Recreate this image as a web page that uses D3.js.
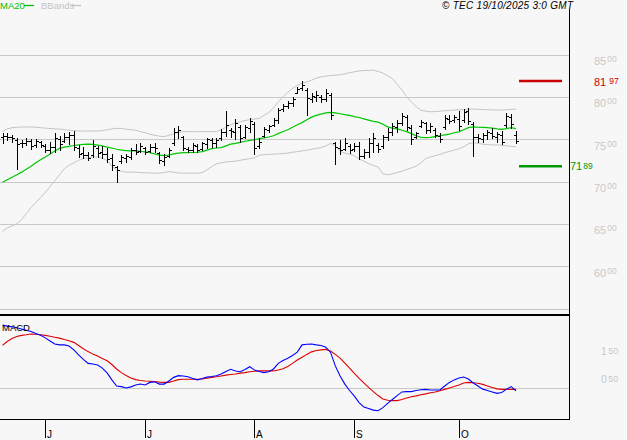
<!DOCTYPE html>
<html><head><meta charset="utf-8">
<script src="https://cdn.jsdelivr.net/npm/d3@7"></script>
<style>
html,body{margin:0;padding:0;background:#f7f7f7;}
svg{display:block;font-family:"Liberation Sans",Arial,sans-serif;}
</style>
</head><body>
<svg id="c" width="627" height="440"></svg>
<script>
// ---- data ----
const opens=[75.4,75.5,75.3,75.0,74.6,74.6,74.9,74.4,74.8,74.3,
73.8,74.2,75.1,74.9,75.4,75.6,74.1,73.5,73.2,73.2,
74.1,73.6,73.3,72.9,71.8,72.5,72.9,73.0,73.8,73.7,
74.1,73.7,74.2,73.5,72.5,73.1,74.6,76.0,75.3,73.9,
73.8,74.3,73.9,74.5,75.0,74.6,75.2,76.0,76.2,75.9,
76.5,75.4,76.4,76.9,74.3,75.5,76.2,76.8,77.3,78.6,
79.0,79.4,80.6,81.1,80.9,79.8,80.1,80.1,79.8,80.3,
74.6,74.1,73.9,74.3,73.9,74.3,73.1,73.6,74.6,74.4,
74.3,75.3,76.0,76.5,77.0,77.7,76.4,75.3,76.7,77.0,
76.2,76.2,75.5,76.5,77.5,77.3,77.5,77.4,78.4,76.9,
75.3,75.1,75.6,75.8,75.4,75.6,76.8,77.7,75.6];
const highs=[75.79,75.79,75.59,75.20,75.00,75.20,75.12,75.12,74.88,74.49,
74.73,75.79,75.51,75.79,75.91,76.06,74.41,74.21,73.55,75.00,
74.33,74.33,74.02,73.32,71.98,73.24,73.32,74.10,74.49,74.61,
74.21,74.49,74.61,73.62,73.32,74.02,76.38,76.68,75.51,74.21,
74.61,74.49,74.80,75.27,75.27,75.20,76.29,78.41,76.45,77.47,
76.76,76.76,77.62,77.15,75.20,76.56,76.76,77.62,78.80,79.20,
79.59,80.09,81.27,81.94,81.08,80.49,80.76,80.29,81.00,80.49,
74.80,75.00,75.20,74.49,74.61,74.80,73.94,75.20,75.79,74.61,
75.59,76.38,76.96,77.35,78.14,77.94,76.76,75.98,77.35,77.15,
76.96,76.38,75.79,77.94,77.94,77.94,78.41,78.65,78.80,77.15,
75.67,75.79,76.18,76.38,75.98,76.06,78.14,78.02,76.06];
const lows=[74.61,75.00,74.80,71.59,74.21,74.41,73.94,74.21,74.21,73.55,
73.44,73.62,73.82,74.80,74.49,73.82,73.04,72.85,72.65,73.04,
73.04,72.92,72.45,71.47,70.09,72.26,72.45,72.75,73.32,73.62,
73.32,73.55,73.62,72.26,72.06,73.04,74.41,75.27,73.82,73.62,
73.55,73.55,73.82,74.02,74.21,74.21,75.00,75.51,75.39,75.12,
74.80,75.27,75.98,73.32,74.02,75.39,75.91,76.68,76.96,78.41,
78.80,79.04,80.49,80.88,77.94,79.51,79.59,79.44,79.59,77.47,
72.14,73.32,73.82,73.44,73.71,72.76,72.85,73.04,73.62,73.62,
74.10,75.00,75.59,75.98,76.76,76.18,74.49,75.20,76.56,75.79,
75.91,75.39,74.80,76.29,76.96,77.08,76.18,77.15,76.85,73.15,
74.80,74.80,75.12,75.20,74.80,74.49,76.56,76.38,74.61];
const closes=[75.5,75.3,75.2,74.5,74.6,74.9,74.3,74.9,74.4,73.8,
74.2,75.2,74.5,75.4,75.6,74.2,73.4,73.2,72.9,74.3,
73.5,73.3,72.8,72.0,71.5,73.0,73.1,73.8,73.6,74.3,
73.6,74.2,74.0,72.6,73.0,73.8,76.0,76.2,74.0,73.8,
74.4,73.8,74.6,75.1,74.6,75.0,76.0,76.8,76.1,77.0,
75.2,76.5,77.2,74.0,74.8,76.3,76.6,77.4,78.5,79.0,
79.4,79.8,81.0,81.5,79.9,80.2,80.3,79.8,80.5,77.9,
74.2,73.8,74.6,73.8,74.3,73.1,73.6,74.6,75.2,73.9,
75.3,76.0,76.6,77.0,77.8,76.5,75.1,75.8,77.1,76.2,
76.7,75.6,75.1,77.6,77.2,77.7,76.6,78.3,77.2,75.4,
75.2,75.6,75.9,75.5,75.7,74.8,77.8,76.9,74.9];
const ma20=[70.0,70.3,70.6,70.9,71.2,71.55,71.9,72.3,72.65,73.0,
73.35,73.7,74.0,74.15,74.25,74.35,74.42,74.47,74.5,74.48,
74.4,74.3,74.15,74.05,73.9,73.8,73.75,73.71,73.7,73.65,
73.6,73.5,73.35,73.2,73.15,73.2,73.35,73.45,73.5,73.5,
73.52,73.55,73.62,73.8,73.97,74.05,74.1,74.3,74.5,74.6,
74.72,74.85,74.95,75.03,75.15,75.25,75.35,75.5,75.75,76.0,
76.2,76.5,76.8,77.05,77.4,77.7,77.9,78.05,78.2,78.26,
78.2,78.1,78.0,77.9,77.75,77.65,77.5,77.35,77.2,77.1,
76.85,76.55,76.4,76.3,76.15,75.98,75.75,75.5,75.3,75.27,
75.3,75.4,75.5,75.6,75.7,75.85,75.95,76.2,76.45,76.55,
76.5,76.48,76.45,76.4,76.3,76.26,76.35,76.45,76.35];
const bbUpper=[76.0,76.3,76.45,76.5,76.53,76.53,76.53,76.5,76.45,76.4,
76.35,76.32,76.29,76.22,76.15,76.1,76.06,76.05,76.05,76.06,
76.06,76.1,76.2,76.3,76.38,76.35,76.28,76.2,76.15,76.0,
75.85,75.67,75.55,75.45,75.39,75.55,75.71,75.9,75.98,75.98,
75.98,75.98,75.98,75.98,75.98,76.0,76.2,76.5,76.8,77.0,
77.15,77.3,77.4,77.47,77.55,77.9,78.25,78.8,79.5,80.1,
80.6,81.1,81.45,81.7,81.86,82.05,82.3,82.45,82.55,82.6,
82.65,82.7,82.8,82.95,83.05,83.15,83.2,83.22,83.24,83.1,
82.9,82.6,82.25,81.6,80.9,80.1,79.5,78.95,78.5,78.4,
78.33,78.35,78.4,78.45,78.5,78.53,78.55,78.6,78.63,78.65,
78.62,78.6,78.57,78.55,78.53,78.53,78.58,78.62,78.65];
const bbLower=[64.2,64.6,64.85,65.1,65.6,66.3,67.0,67.6,68.2,68.8,
69.5,70.2,70.9,71.6,72.0,72.3,72.6,72.8,72.9,73.0,
73.0,72.85,72.55,71.9,71.45,71.3,71.2,71.2,71.2,71.15,
71.12,71.1,71.08,71.08,71.15,71.25,71.2,71.1,71.08,71.08,
71.08,71.08,71.15,71.45,71.85,72.18,72.3,72.4,72.45,72.5,
72.6,72.7,72.8,72.9,73.2,73.25,73.3,73.32,73.35,73.4,
73.45,73.55,73.62,73.7,73.8,73.9,74.0,74.1,74.3,74.6,
74.3,73.65,73.45,73.3,73.15,72.75,72.5,72.2,72.0,71.8,
71.0,70.9,71.0,71.15,71.3,71.5,71.7,71.9,72.3,72.8,
73.0,73.15,73.3,73.5,73.65,73.8,73.95,74.2,74.55,74.7,
74.6,74.5,74.45,74.42,74.41,74.38,74.3,74.25,74.2];
const macd=[2.25,2.21,2.19,2.15,2.11,2.06,2.02,1.95,1.88,1.79,
1.68,1.57,1.54,1.54,1.50,1.36,1.18,1.02,0.88,0.86,
0.82,0.71,0.54,0.29,0.07,0.05,0.0,0.04,0.11,0.14,
0.11,0.20,0.22,0.14,0.14,0.25,0.38,0.44,0.43,0.40,
0.34,0.29,0.34,0.39,0.41,0.44,0.50,0.59,0.67,0.61,
0.58,0.66,0.76,0.64,0.59,0.55,0.58,0.68,0.88,0.98,
1.06,1.16,1.28,1.54,1.56,1.57,1.54,1.52,1.46,1.27,
0.79,0.43,0.14,-0.09,-0.29,-0.52,-0.68,-0.73,-0.79,-0.81,
-0.70,-0.55,-0.41,-0.27,-0.14,-0.13,-0.13,-0.09,-0.06,-0.05,
-0.07,-0.07,-0.07,0.07,0.20,0.29,0.36,0.39,0.32,0.18,
0.07,-0.04,-0.09,-0.14,-0.19,-0.16,-0.04,0.05,-0.10];
const signal=[1.52,1.66,1.77,1.84,1.88,1.90,1.93,1.92,1.90,1.88,
1.85,1.81,1.78,1.73,1.69,1.63,1.52,1.40,1.30,1.21,
1.14,1.05,0.97,0.84,0.68,0.55,0.45,0.36,0.30,0.27,
0.25,0.24,0.23,0.21,0.20,0.20,0.25,0.30,0.31,0.31,
0.31,0.31,0.32,0.35,0.38,0.40,0.43,0.46,0.48,0.50,
0.53,0.55,0.58,0.60,0.61,0.61,0.61,0.61,0.64,0.69,
0.77,0.88,1.00,1.10,1.20,1.29,1.34,1.36,1.38,1.32,
1.20,1.07,0.89,0.71,0.52,0.34,0.18,0.02,-0.13,-0.27,
-0.39,-0.44,-0.45,-0.45,-0.41,-0.36,-0.31,-0.28,-0.24,-0.21,
-0.17,-0.14,-0.10,-0.05,0.00,0.05,0.11,0.18,0.20,0.19,
0.17,0.13,0.07,0.02,-0.03,-0.05,-0.05,-0.05,-0.05];
const priceGrid=[85,80,75,70,65,60,55];
const priceLabels=[85,80,75,70,65,60];
const macdLabels=[1.5,0.5];
const monthTickIdx=[9,30,53,74,96];
const monthTickLabels=["J","J","A","S","O"];
const resistance=81.97, support=71.89;
const headerText="\u00A9 TEC 19/10/2025 3:0 GMT";

// ---- drawing ----
const svg=d3.select("#c");
const axisX=569;
const x=d3.scaleLinear().domain([0,108]).range([2.5,516]);
const y=d3.scaleLinear().domain([55,85]).range([309.3,55.3]);
const ym=d3.scaleLinear().domain([0,1]).range([388,360]);
const px=v=>Math.floor(v)+0.5;

svg.append("rect").attr("width",627).attr("height",440).attr("fill","#f7f7f7");

const defs=svg.append("defs");
defs.append("clipPath").attr("id","cp").append("rect").attr("x",0).attr("y",10).attr("width",axisX).attr("height",303);
defs.append("clipPath").attr("id","cm").append("rect").attr("x",0).attr("y",316).attr("width",axisX).attr("height",103);

// grid
svg.append("g").selectAll("line").data(priceGrid).join("line")
  .attr("x1",0).attr("x2",axisX).attr("y1",d=>px(y(d))).attr("y2",d=>px(y(d)))
  .attr("stroke","#c8c8c8").attr("stroke-width",1);
svg.append("line").attr("x1",0).attr("x2",axisX).attr("y1",px(ym(0))).attr("y2",px(ym(0)))
  .attr("stroke","#c8c8c8").attr("stroke-width",1);

const gp=svg.append("g").attr("clip-path","url(#cp)");
const idx=d3.range(opens.length);
const lineOf=arr=>d3.line().x((d,i)=>x(i)).y(d=>y(d))(arr);
gp.append("path").attr("d",lineOf(bbUpper)).attr("fill","none").attr("stroke","#c4c4c4").attr("stroke-width",1);
gp.append("path").attr("d",lineOf(bbLower)).attr("fill","none").attr("stroke","#c4c4c4").attr("stroke-width",1);
gp.append("path").attr("d",lineOf(ma20)).attr("fill","none").attr("stroke","#00c800").attr("stroke-width",1.2);

// OHLC bars
const bars=gp.append("g").attr("fill","#000");
idx.forEach(i=>{
  const xi=Math.round(x(i));
  const yh=Math.round(y(highs[i])), yl=Math.round(y(lows[i]));
  bars.append("rect").attr("x",xi).attr("y",yh).attr("width",1).attr("height",Math.max(1,yl-yh+1));
  bars.append("rect").attr("x",xi-2).attr("y",Math.round(y(opens[i]))).attr("width",2).attr("height",1);
  bars.append("rect").attr("x",xi+1).attr("y",Math.round(y(closes[i]))).attr("width",2).attr("height",1);
});

// support / resistance
svg.append("line").attr("x1",519).attr("x2",562).attr("y1",y(resistance)).attr("y2",y(resistance))
  .attr("stroke","#cc0000").attr("stroke-width",2.5);
svg.append("line").attr("x1",519).attr("x2",562).attr("y1",y(support)).attr("y2",y(support))
  .attr("stroke","#009900").attr("stroke-width",2.5);

// price labels
priceLabels.forEach(v=>{
  const t=svg.append("text").attr("x",594).attr("y",y(v)+9.7).attr("fill","#c8c8c8").attr("font-size",11);
  t.append("tspan").text(String(v));
  t.append("tspan").attr("dx",1).attr("dy",-3).attr("font-size",8.5).text("00");
});
function splitLabel(v){const s=v.toFixed(2).split(".");return s;}
{
  const s=splitLabel(resistance);
  const t=svg.append("text").attr("x",594).attr("y",y(resistance)+5).attr("fill","#cc0000").attr("font-size",11);
  t.append("tspan").text(s[0]);
  t.append("tspan").attr("dx",3).attr("dy",-2).attr("font-size",8.5).text(s[1]);
}
{
  const s=splitLabel(support);
  const t=svg.append("text").attr("x",570).attr("y",y(support)+4).attr("fill","#009900").attr("font-size",11);
  t.append("tspan").text(s[0]);
  t.append("tspan").attr("dx",1).attr("dy",-1.5).attr("font-size",8.5).text(s[1]);
}
// macd labels
macdLabels.forEach(v=>{
  const s=splitLabel(v);
  const t=svg.append("text").attr("x",601).attr("y",ym(v)+9).attr("fill","#c8c8c8").attr("font-size",10.5);
  t.append("tspan").text(s[0]);
  t.append("tspan").attr("dx",1.5).attr("dy",-1.5).attr("font-size",9).text(s[1]);
});

// MACD lines
const gm=svg.append("g").attr("clip-path","url(#cm)");
const mline=d3.line().x((d,i)=>x(i)).y(d=>ym(d));
gm.append("path").attr("d",mline(signal)).attr("fill","none").attr("stroke","#dd0000").attr("stroke-width",1.1);
gm.append("path").attr("d",mline(macd)).attr("fill","none").attr("stroke","#0000ff").attr("stroke-width",1.1);

// frames
svg.append("rect").attr("x",0).attr("y",314).attr("width",axisX).attr("height",2).attr("fill","#000");
svg.append("rect").attr("x",0).attr("y",419).attr("width",axisX+1).attr("height",1).attr("fill","#000");
svg.append("rect").attr("x",axisX).attr("y",9).attr("width",1).attr("height",411).attr("fill","#000");

// x axis ticks
monthTickIdx.forEach((d,k)=>{
  const xi=Math.round(x(d));
  svg.append("rect").attr("x",xi).attr("y",419).attr("width",1).attr("height",19).attr("fill","#000");
  svg.append("text").attr("x",xi+2).attr("y",438).attr("font-size",10).attr("fill","#000").text(monthTickLabels[k]);
});

// header / legend
svg.append("text").attr("x",0).attr("y",8.5).attr("font-size",9.5).attr("fill","#00c000").text("MA20");
svg.append("line").attr("x1",24).attr("x2",34).attr("y1",5.5).attr("y2",5.5).attr("stroke","#00c000").attr("stroke-width",1.3);
svg.append("text").attr("x",41).attr("y",8.5).attr("font-size",9.5).attr("fill","#c4c4c4").text("BBands");
svg.append("line").attr("x1",72).attr("x2",81).attr("y1",5.5).attr("y2",5.5).attr("stroke","#c4c4c4").attr("stroke-width",1.3);
svg.append("text").attr("x",442).attr("y",8.5).attr("font-size",10).attr("font-style","italic").attr("fill","#000")
  .attr("textLength",131).attr("lengthAdjust","spacing").text(headerText);
svg.append("text").attr("x",2).attr("y",330.5).attr("font-size",9.5).attr("fill","#000").text("MACD");
</script>
</body></html>
